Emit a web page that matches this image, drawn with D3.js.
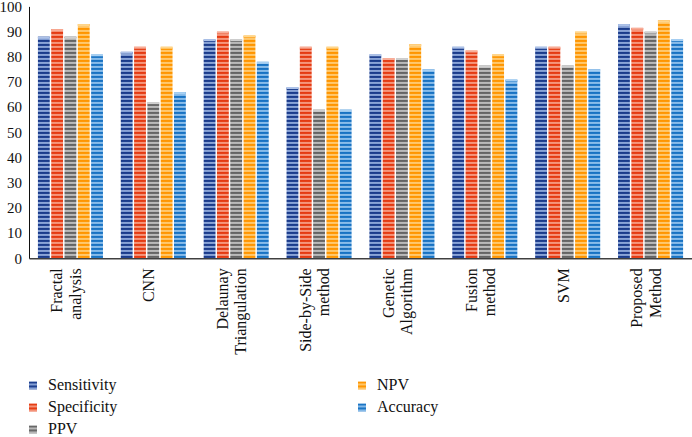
<!DOCTYPE html>
<html>
<head>
<meta charset="utf-8">
<script src="https://cdn.jsdelivr.net/npm/d3@7"></script>
<style>
  html, body { margin: 0; padding: 0; background: #fff; }
  svg { display: block; }
  text { font-family: "Liberation Serif", "Times New Roman", serif; fill: #111; }
</style>
</head>
<body>
<svg id="chart" width="692" height="437"></svg>
<script>
// ---- data ----
const categories = [
  ["Fractal", "analysis"],
  ["CNN"],
  ["Delaunay", "Triangulation"],
  ["Side-by-Side", "method"],
  ["Genetic", "Algorithm"],
  ["Fusion", "method"],
  ["SVM"],
  ["Proposed", "Method"]
];
const seriesNames = ["Sensitivity", "Specificity", "PPV", "NPV", "Accuracy"];
const sensitivity = [88, 82, 87, 68, 81, 84, 84, 93];
const specificity = [91, 84, 90, 84, 79.5, 82.5, 84, 91.5];
const ppv         = [88, 62, 87, 59, 79.5, 76.5, 76.5, 90];
const npv         = [93, 84, 88.5, 84, 85, 81, 90, 94.5];
const accuracy    = [81, 66, 78, 59, 75, 71, 75, 87];
const yTicks = [0, 10, 20, 30, 40, 50, 60, 70, 80, 90, 100];

const seriesValues = [sensitivity, specificity, ppv, npv, accuracy];
// colours: [dark stripe, mid, light stripe]
const seriesColors = [
  ["#1b3b8a", "#3a5fae", "#adc2e8"],
  ["#e43a12", "#f0603a", "#f8ad98"],
  ["#646464", "#888888", "#cfcfcf"],
  ["#ff9500", "#ffa928", "#ffd68c"],
  ["#1872c2", "#3f8fd6", "#a8d0f2"]
];

const svg = d3.select("#chart");
const catKeys = categories.map(c => c.join(" "));

const x = d3.scaleBand().domain(catKeys).range([29, 692]).paddingInner(0).paddingOuter(0);
const xs = d3.scaleBand().domain(seriesNames).range([0, x.bandwidth()])
  .paddingInner(0.11).paddingOuter(0.67);
const y = d3.scaleLinear().domain([0, 100]).range([258.3, 6.4]);

// patterns
const defs = svg.append("defs");
seriesNames.forEach((s, i) => {
  const [dark, mid, light] = seriesColors[i];
  const p = defs.append("pattern")
    .attr("id", "pat" + i)
    .attr("patternUnits", "userSpaceOnUse")
    .attr("width", 8).attr("height", 4);
  p.append("rect").attr("width", 8).attr("height", 4).attr("fill", mid);
  p.append("rect").attr("y", 0).attr("width", 8).attr("height", 1.8).attr("fill", dark);
  p.append("rect").attr("y", 2.3).attr("width", 8).attr("height", 1.3).attr("fill", light);
});

// bars
const groups = svg.append("g").selectAll("g")
  .data(catKeys)
  .join("g")
  .attr("transform", d => `translate(${x(d)},0)`);

groups.each(function(cat, ci) {
  const g = d3.select(this);
  seriesNames.forEach((s, si) => {
    const v = seriesValues[si][ci];
    g.append("rect")
      .attr("x", xs(s))
      .attr("y", y(v))
      .attr("width", xs.bandwidth())
      .attr("height", y(0) - y(v))
      .attr("fill", `url(#pat${si})`);
    g.append("rect")
      .attr("x", xs(s))
      .attr("y", y(v))
      .attr("width", xs.bandwidth())
      .attr("height", 2)
      .attr("fill", seriesColors[si][2]);
  });
});

// y axis
const yAxis = d3.axisLeft(y).tickValues(yTicks).tickSize(0).tickPadding(7);
const yg = svg.append("g").attr("transform", "translate(29,0)").call(yAxis);
yg.select(".domain").attr("stroke", "#111").attr("stroke-width", 1);
yg.selectAll("text").style("font-size", "15px").attr("fill", "#111")
  .style("font-family", '"Liberation Serif", serif');

// x axis
const xAxis = d3.axisBottom(x).tickSize(0).tickFormat("");
const xg = svg.append("g").attr("transform", `translate(0,${y(0)})`).call(xAxis);
xg.select(".domain").attr("stroke", "#404040").attr("stroke-width", 1.5);

// x labels (rotated, multi-line)
const lh = 18.5;
const lbl = svg.append("g").selectAll("text")
  .data(categories)
  .join("text")
  .attr("text-anchor", "end")
  .style("font-size", "16px")
  .attr("transform", (d, i) => {
    const cx = x(catKeys[i]) + x.bandwidth() / 2 - 3;
    const b0 = cx - (d.length - 1) * lh / 2 + 4;
    return `translate(${b0},${y(0) + 10}) rotate(-90)`;
  });
lbl.each(function(d) {
  const t = d3.select(this);
  d.forEach((line, j) => {
    t.append("tspan").attr("x", 0).attr("y", j * lh).text(line);
  });
});

// legend
const legendPos = [
  [29, 385.5], [29, 407.5], [29, 429.5], [358, 385.5], [358, 407.5]
];
const leg = svg.append("g").selectAll("g")
  .data(seriesNames)
  .join("g")
  .attr("transform", (d, i) => `translate(${legendPos[i][0]},${legendPos[i][1]})`);
leg.append("rect").attr("x", 0).attr("y", -4).attr("width", 8).attr("height", 8)
  .attr("fill", (d, i) => `url(#pat${i})`);
leg.append("text").attr("x", 19).attr("y", 4.5).style("font-size", "16px").text(d => d);
</script>
</body>
</html>
